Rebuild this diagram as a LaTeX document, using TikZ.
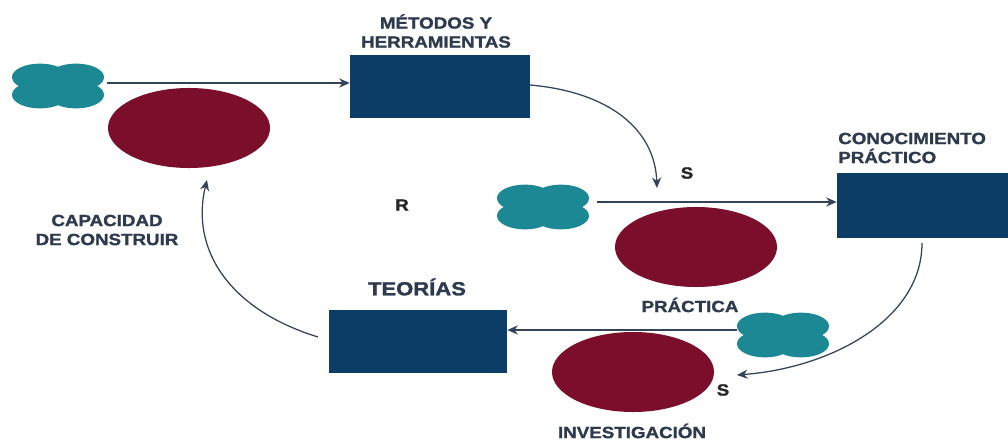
\documentclass[tikz,border=0pt]{standalone}
\usepackage{fontspec}
\setmainfont{Liberation Sans}
\newfontfamily\lblfont{Liberation Sans}[FakeStretch=1.16, FakeBold=1.4]
\usetikzlibrary{shapes.geometric,arrows.meta}
\definecolor{navy}{HTML}{0B3D66}
\definecolor{maroon}{HTML}{7B0E2A}
\definecolor{tealc}{HTML}{1C8893}
\definecolor{txt}{HTML}{2E3A4E}
\definecolor{linec}{HTML}{34435A}
\tikzset{
  box/.style={rectangle, fill=navy, draw=none, inner sep=0pt},
  blob/.style={ellipse, fill=maroon, draw=none, inner sep=0pt, minimum width=4.05cm, minimum height=2cm},
  cloudbox/.style={rectangle, draw=none, inner sep=0pt, minimum height=1.1cm},
  conn/.style={draw=linec, line width=0.9pt, -{Stealth[length=7.5pt,width=6.5pt]}},
  lbl/.style={text=txt, font=\lblfont\bfseries\fontsize{11.5}{13.5}\selectfont, inner sep=0pt},
  big/.style={text=txt, font=\lblfont\bfseries\fontsize{13.5}{16}\selectfont, inner sep=0pt},
  letter/.style={text=black!85, font=\lblfont\bfseries\fontsize{11.5}{13.5}\selectfont, inner sep=0pt},
  cloudpic/.pic={
    \fill[tealc] (-0.45cm,0.22cm) ellipse [x radius=0.7cm, y radius=0.34cm];
    \fill[tealc] (0.45cm,0.22cm) ellipse [x radius=0.7cm, y radius=0.34cm];
    \fill[tealc] (-0.45cm,-0.22cm) ellipse [x radius=0.7cm, y radius=0.34cm];
    \fill[tealc] (0.45cm,-0.22cm) ellipse [x radius=0.7cm, y radius=0.34cm];
    \fill[tealc] (0,0) ellipse [x radius=0.95cm, y radius=0.38cm];
  }
}
\begin{document}
\begin{tikzpicture}[x=0.025cm,y=-0.025cm]
\useasboundingbox (0,0) rectangle (1008,440);
\fill[white] (0,0) rectangle (1008,440);

% clouds
\pic at (58,86) {cloudpic};
\pic at (543,207) {cloudpic};
\pic at (783,335) {cloudpic};
\node[cloudbox, minimum width=2.45cm] (c1) at (58,83) {};
\node[cloudbox, minimum width=2.7cm] (c2) at (543,202) {};
\node[cloudbox, minimum width=2.3cm] (c3) at (783,330) {};

% rectangles
\node[box, minimum width=4.5cm, minimum height=1.575cm] (m) at (440,86.5) {};
\node[box, minimum width=4.275cm, minimum height=1.625cm] (k) at (922.5,205.5) {};
\node[box, minimum width=4.45cm, minimum height=1.575cm] (t) at (418,341.5) {};

% ellipses
\node[blob] (e1) at (189,128) {};
\node[blob] (e2) at (696,247) {};
\node[blob] (e3) at (633,372) {};

% labels
\node[lbl, align=center] (lm) at (436,31) {MÉTODOS Y\\HERRAMIENTAS};
\node[lbl, align=left, anchor=west] (lk) at (838,148) {CONOCIMIENTO\\PRÁCTICO};
\node[lbl, align=center] (lc) at (107,230) {CAPACIDAD\\DE CONSTRUIR};
\node[big] (lt) at (417,287) {TEORÍAS};
\node[lbl] (lp) at (690,305) {PRÁCTICA};
\node[lbl] (li) at (632,431) {INVESTIGACIÓN};
\node[letter] (r) at (402,205) {R};
\node[letter] (s1) at (687,173) {S};
\node[letter] (s2) at (723,390) {S};

% connector end points
\coordinate (a1) at (657,188);
\coordinate (a4) at (737,375);
\coordinate (a5) at (207,180);
\coordinate (m0) at (530,85);
\coordinate (k0) at (922,243);
\coordinate (t0) at (318,337);

% straight connectors
\draw[conn] (c1.east) -- (c1.east -| m.west);
\draw[conn] (c2.east) -- (c2.east -| k.west);
\draw[conn] (c3.west) -- (c3.west -| t.east);

% curved connectors
\draw[conn] (m0) .. controls (610,92) and (655,130) .. (a1);
\draw[conn] (k0) .. controls (922,320) and (830,368) .. (a4);
\draw[conn] (t0) .. controls (230,310) and (190,250) .. (a5);
\end{tikzpicture}
\end{document}
